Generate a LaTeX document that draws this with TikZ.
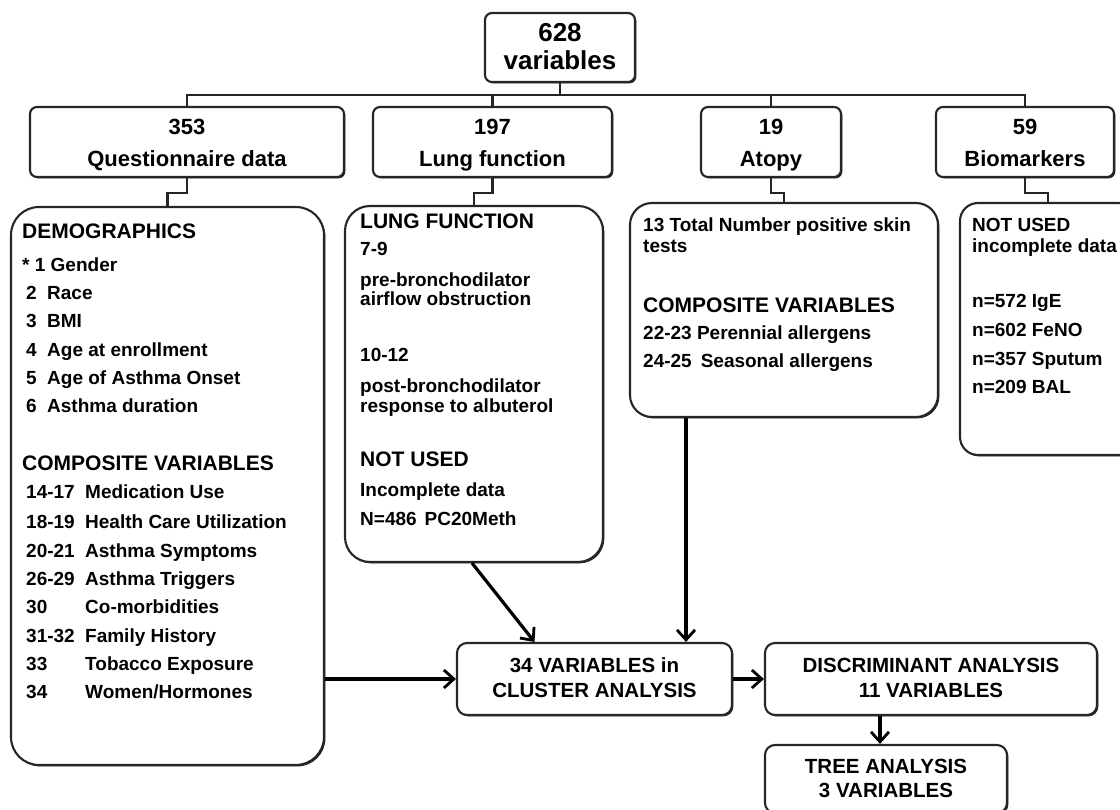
\documentclass[tikz,border=0pt]{standalone}
\usepackage{fontspec}
\setmainfont{Liberation Sans}
\usetikzlibrary{arrows.meta,shadows}
\newcommand\fTop{\fontsize{26}{30}\selectfont\bfseries}
\newcommand\fSec{\fontsize{22}{26}\selectfont\bfseries}
\newcommand\fHead{\fontsize{21}{25}\selectfont\bfseries}
\newcommand\fItem{\fontsize{19}{22}\selectfont\bfseries}
\newcommand\fLow{\fontsize{20.5}{24}\selectfont\bfseries}
\begin{document}
\begin{tikzpicture}[x=1pt,y=-1pt,
  box/.style={rectangle, draw=black!85, line width=2.1pt, fill=white, inner sep=0pt,
    general shadow={shadow xshift=1.4pt, shadow yshift=-1.4pt, fill=black!85}},
  sbox/.style={box, rounded corners=7pt, minimum height=70pt},
  conn/.style={draw=black!85, line width=2.6pt},
  arr/.style={draw=black, line width=3.2pt, -{Straight Barb[length=10pt,width=18pt,line width=2.8pt]}},
  hd/.style={anchor=base west, inner sep=0pt, font=\fHead},
  it/.style={anchor=base west, inner sep=0pt, font=\fItem},
  ctr/.style={anchor=base, inner sep=0pt}]
\path[use as bounding box, fill=white] (0,0) rectangle (1120,810);
\clip (0,0) rectangle (1120,810);

% boxes
\node[box, rounded corners=7pt, minimum width=150pt, minimum height=69pt] (top) at (560,47.5) {};
\node[sbox, minimum width=314pt] (q) at (187,142) {};
\node[sbox, minimum width=239pt] (lf) at (492.5,142) {};
\node[sbox, minimum width=140pt] (at) at (771,142) {};
\node[sbox, minimum width=178pt] (bm) at (1025,142) {};

\node[box, rounded corners=28pt, minimum width=313pt, minimum height=558pt] (qd) at (167.5,486) {};
\node[box, rounded corners=25pt, minimum width=258pt, minimum height=356pt] (lfd) at (474,384) {};
\node[box, rounded corners=22pt, minimum width=308pt, minimum height=214pt] (atd) at (784,310) {};
\node[box, rounded corners=18pt, minimum width=176pt, minimum height=252pt] (bmd) at (1048,329) {};

\node[box, rounded corners=10pt, minimum width=275pt, minimum height=72pt] (cl) at (594.5,679) {};
\node[box, rounded corners=10pt, minimum width=332pt, minimum height=72pt] (da) at (931,679) {};
\node[box, rounded corners=10pt, minimum width=242pt, minimum height=68pt] (ta) at (886,779) {};

% connectors
\draw[conn] (top.south) -- ++(0,12) -| (q.north);
\draw[conn] (top.south) -- ++(0,12) -| (lf.north);
\draw[conn] (top.south) -- ++(0,12) -| (at.north);
\draw[conn] (top.south) -- ++(0,12) -| (bm.north);
\draw[conn] (q.south) -- ++(0,15) -| (qd.north);
\draw[conn] (lf.south) -- ++(0,15) -| (lfd.north);
\draw[conn] (at.south) -- ++(0,15) -| (atd.north);
\draw[conn] (bm.south) -- ++(0,15) -| (bmd.north);

\draw[arr] (qd.east |- cl.west) -- (cl.west);
\draw[arr] ([xshift=-2pt]lfd.south) -- ([xshift=-60pt]cl.north);
\draw[arr] ([xshift=-98pt]atd.south) -- ([xshift=-98pt]atd.south |- cl.north);
\draw[arr] (cl.east) -- (da.west);
\draw[arr] ([xshift=-6pt]ta.north |- da.south) -- ([xshift=-6pt]ta.north);

% texts: top rows
\node[ctr, font=\fTop] (t1) at (560,42) {628};
\node[ctr, font=\fTop] (t2) at (560,70) {variables};
\node[ctr, font=\fSec] (q1) at (187,135) {353};
\node[ctr, font=\fSec] (q2) at (187,167) {Questionnaire data};
\node[ctr, font=\fSec] (l1) at (492.5,135) {197};
\node[ctr, font=\fSec] (l2) at (492.5,167) {Lung function};
\node[ctr, font=\fSec] (a1) at (771,135) {19};
\node[ctr, font=\fSec] (a2) at (771,167) {Atopy};
\node[ctr, font=\fSec] (b1) at (1025,135) {59};
\node[ctr, font=\fSec] (b2) at (1025,167) {Biomarkers};

% demographics
\node[hd] (d0) at (22,239) {DEMOGRAPHICS};
\node[it] (d1) at (22,272) {* 1 Gender};
\node[it] (d2) at (26,300) {\makebox[21pt][l]{2}Race};
\node[it] (d3) at (26,328) {\makebox[21pt][l]{3}BMI};
\node[it] (d4) at (26,357) {\makebox[21pt][l]{4}Age at enrollment};
\node[it] (d5) at (26,385) {\makebox[21pt][l]{5}Age of Asthma Onset};
\node[it] (d6) at (26,413) {\makebox[21pt][l]{6}Asthma duration};
\node[hd] (c0) at (22,470) {COMPOSITE VARIABLES};
\node[it] (c1) at (26,498) {\makebox[59pt][l]{14-17}Medication Use};
\node[it] (c2) at (26,528) {\makebox[59pt][l]{18-19}Health Care Utilization};
\node[it] (c3) at (26,557) {\makebox[59pt][l]{20-21}Asthma Symptoms};
\node[it] (c4) at (26,585) {\makebox[59pt][l]{26-29}Asthma Triggers};
\node[it] (c5) at (26,613) {\makebox[59pt][l]{30}Co-morbidities};
\node[it] (c6) at (26,642) {\makebox[59pt][l]{31-32}Family History};
\node[it] (c7) at (26,670) {\makebox[59pt][l]{33}Tobacco Exposure};
\node[it] (c8) at (26,698) {\makebox[59pt][l]{34}Women/Hormones};

% lung function
\node[hd] (f0) at (360,229) {LUNG FUNCTION};
\node[it] (f1) at (360,256) {7-9};
\node[it] (f2) at (360,287) {pre-bronchodilator};
\node[it] (f3) at (360,306) {airflow obstruction};
\node[it] (f4) at (360,362) {10-12};
\node[it] (f5) at (360,393) {post-bronchodilator};
\node[it] (f6) at (360,413) {response to albuterol};
\node[hd] (f7) at (360,467) {NOT USED};
\node[it] (f8) at (360,496) {Incomplete data};
\node[it] (f9) at (360,525) {N=486\hspace{8pt}PC20Meth};

% atopy
\node[it] (p1) at (643,232) {13 Total Number positive skin};
\node[it] (p2) at (643,253) {tests};
\node[hd] (p3) at (643,313) {COMPOSITE VARIABLES};
\node[it] (p4) at (643,340) {22-23 Perennial allergens};
\node[it] (p5) at (643,368) {24-25\hspace{9pt}Seasonal allergens};

% biomarkers
\node[it] (m1) at (972,232) {NOT USED};
\node[it] (m2) at (972,253) {incomplete data};
\node[it] (m3) at (972,308) {n=572 IgE};
\node[it] (m4) at (972,337) {n=602 FeNO};
\node[it] (m5) at (972,366) {n=357 Sputum};
\node[it] (m6) at (972,394) {n=209 BAL};

% lower boxes
\node[ctr, font=\fLow] (k1) at (594.5,672) {34 VARIABLES in};
\node[ctr, font=\fLow] (k2) at (594.5,697) {CLUSTER ANALYSIS};
\node[ctr, font=\fLow] (k3) at (931,672) {DISCRIMINANT ANALYSIS};
\node[ctr, font=\fLow] (k4) at (931,697) {11 VARIABLES};
\node[ctr, font=\fLow] (k5) at (886,773) {TREE ANALYSIS};
\node[ctr, font=\fLow] (k6) at (886,797) {3 VARIABLES};
\end{tikzpicture}
\end{document}
